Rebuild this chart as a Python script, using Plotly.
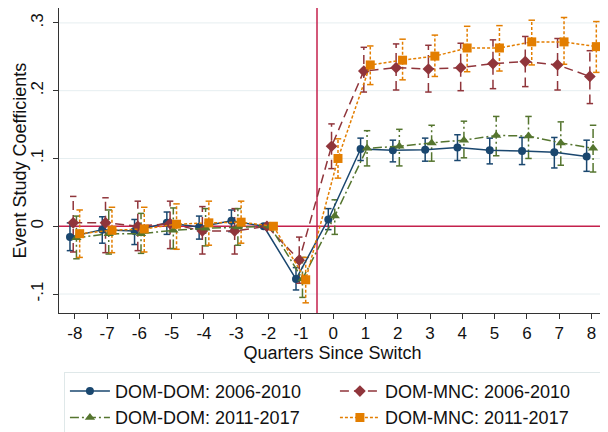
import plotly.graph_objects as go

quarters = [-8, -7, -6, -5, -4, -3, -2, -1, 0, 1, 2, 3, 4, 5, 6, 7, 8]

dd0610 = [-0.016, -0.005, -0.007, 0.005, -0.001, 0.008, 0.0, -0.078, 0.010, 0.114, 0.112, 0.113, 0.116, 0.112, 0.111, 0.109, 0.103]
dd0610_lo = [-0.036, -0.025, -0.027, -0.012, -0.019, -0.008, None, -0.094, -0.005, 0.097, 0.095, 0.096, 0.097, 0.092, 0.091, 0.086, 0.081]
dd0610_hi = [0.005, 0.014, 0.010, 0.021, 0.015, 0.024, None, -0.061, 0.026, 0.130, 0.127, 0.130, 0.135, 0.130, 0.131, 0.131, 0.127]

dm0610 = [0.005, 0.005, 0.000, 0.004, -0.007, -0.007, 0.0, -0.050, 0.118, 0.229, 0.234, 0.232, 0.234, 0.240, 0.243, 0.238, 0.221]
dm0610_lo = [-0.038, -0.039, -0.036, -0.033, -0.041, -0.041, None, -0.084, 0.085, 0.198, 0.201, 0.198, 0.200, 0.203, 0.206, 0.201, 0.181]
dm0610_hi = [0.044, 0.042, 0.037, 0.037, 0.029, 0.026, None, -0.016, 0.151, 0.264, 0.269, 0.267, 0.270, 0.275, 0.280, 0.277, 0.259]

dd1117 = [-0.017, -0.011, -0.011, -0.006, -0.003, -0.001, 0.0, -0.078, 0.015, 0.115, 0.118, 0.123, 0.127, 0.134, 0.133, 0.123, 0.115]
dd1117_lo = [-0.048, -0.041, -0.040, -0.033, -0.029, -0.028, None, -0.105, -0.012, 0.089, 0.089, 0.096, 0.101, 0.104, 0.100, 0.090, 0.080]
dd1117_hi = [0.015, 0.024, 0.019, 0.027, 0.026, 0.026, None, -0.046, 0.039, 0.141, 0.143, 0.149, 0.155, 0.162, 0.162, 0.154, 0.149]

dm1117 = [-0.011, -0.006, -0.004, 0.003, 0.005, 0.006, 0.0, -0.079, 0.100, 0.238, 0.245, 0.251, 0.263, 0.263, 0.272, 0.272, 0.265]
dm1117_lo = [-0.046, -0.039, -0.038, -0.034, -0.028, -0.025, None, -0.113, 0.071, 0.209, 0.216, 0.221, 0.228, 0.229, 0.238, 0.239, 0.227]
dm1117_hi = [0.024, 0.028, 0.028, 0.033, 0.037, 0.037, None, -0.046, 0.129, 0.266, 0.276, 0.282, 0.295, 0.296, 0.304, 0.308, 0.302]

y_ticks = [-0.1, 0, 0.1, 0.2, 0.3]
y_tick_labels = ["-.1", "0", ".1", ".2", ".3"]

series = [
    dict(name="DOM-DOM: 2006-2010", y=dd0610, lo=dd0610_lo, hi=dd0610_hi, off=-0.15,
         color="#1a476f", dash="solid", symbol="circle", size=8),
    dict(name="DOM-MNC: 2006-2010", y=dm0610, lo=dm0610_lo, hi=dm0610_hi, off=-0.05,
         color="#90353b", dash="9px,5px", symbol="diamond", size=9),
    dict(name="DOM-DOM: 2011-2017", y=dd1117, lo=dd1117_lo, hi=dd1117_hi, off=0.05,
         color="#55752f", dash="9px,3px,2px,3px", symbol="triangle-up", size=9),
    dict(name="DOM-MNC: 2011-2017", y=dm1117, lo=dm1117_lo, hi=dm1117_hi, off=0.15,
         color="#e37e00", dash="3px,2px", symbol="square", size=9),
]

fig = go.Figure()

cap = 0.1
for s in series:
    vx, vy, cx, cy = [], [], [], []
    for q, lo, hi in zip(quarters, s["lo"], s["hi"]):
        if lo is None:
            continue
        x = q + s["off"]
        vx += [x, x, None]
        vy += [lo, hi, None]
        cx += [x - cap, x + cap, None, x - cap, x + cap, None]
        cy += [lo, lo, None, hi, hi, None]
    fig.add_trace(go.Scatter(x=vx, y=vy, mode="lines", showlegend=False, hoverinfo="skip",
                             line=dict(color=s["color"], width=1.5, dash=s["dash"])))
    fig.add_trace(go.Scatter(x=cx, y=cy, mode="lines", showlegend=False, hoverinfo="skip",
                             line=dict(color=s["color"], width=1.5)))

for s in series:
    fig.add_trace(go.Scatter(
        x=[q + s["off"] for q in quarters], y=s["y"], mode="lines+markers", name=s["name"],
        line=dict(color=s["color"], width=1.5, dash=s["dash"]),
        marker=dict(color=s["color"], symbol=s["symbol"], size=s["size"], line=dict(width=0)),
    ))

# light gridlines (not at zero, which carries the red reference line)
for yv in y_ticks:
    if yv != 0:
        fig.add_hline(y=yv, line=dict(color="#e6eef0", width=1), layer="below")

red = "#c4214d"
fig.add_hline(y=0, line=dict(color=red, width=1.5), layer="below")
fig.add_vline(x=-0.5, line=dict(color=red, width=1.5), layer="below")

font = "Liberation Sans, Arial, sans-serif"
fig.update_layout(
    width=600, height=424,
    margin=dict(l=51, r=2, t=0, b=119, autoexpand=False),
    paper_bgcolor="white", plot_bgcolor="white",
    font=dict(family=font, color="#111111"),
    legend=dict(
        orientation="h", x=0.009, y=-0.193, xanchor="left", yanchor="top",
        font=dict(size=18, family=font, color="#111111"),
        bordercolor="#dfe8e9", borderwidth=1, entrywidth=215, tracegroupgap=0,
        itemwidth=40,
    ),
    xaxis=dict(
        range=[-8.49, 8.45], tickvals=quarters, ticktext=[str(q) for q in quarters],
        showgrid=False, zeroline=False, showline=True, linecolor="#333333", linewidth=1,
        ticks="outside", ticklen=5, tickcolor="#333333", tickfont=dict(size=17),
        title=dict(text="Quarters Since Switch", font=dict(size=18), standoff=2),
    ),
    yaxis=dict(
        range=[-0.128, 0.322], tickvals=y_ticks, ticktext=y_tick_labels, tickangle=-90,
        showgrid=False, zeroline=False,
        showline=True, linecolor="#333333", linewidth=1,
        ticks="outside", ticklen=5, tickcolor="#333333", tickfont=dict(size=17),
        ticklabelstandoff=3,
    ),
    annotations=[dict(
        text="Event Study Coefficients", xref="paper", yref="paper",
        x=-0.0713, y=0.5, xanchor="center", yanchor="middle", textangle=-90,
        showarrow=False, font=dict(size=18, family=font, color="#111111"),
    )],
)

fig.write_html("out.html")
